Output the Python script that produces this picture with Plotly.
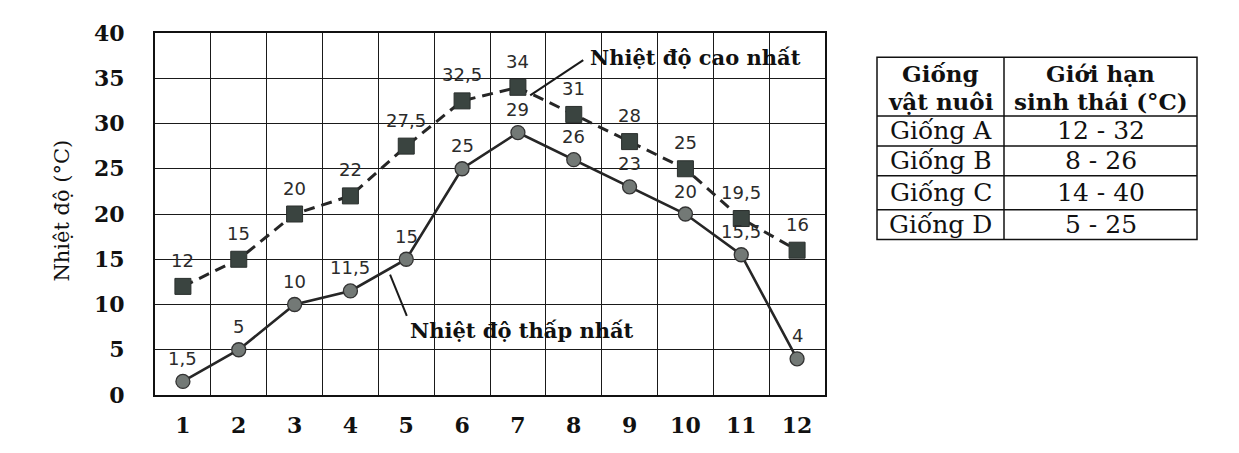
import plotly.graph_objects as go

# ---------------- data ----------------
months = [1, 2, 3, 4, 5, 6, 7, 8, 9, 10, 11, 12]
high_temp = [12, 15, 20, 22, 27.5, 32.5, 34, 31, 28, 25, 19.5, 16]
low_temp = [1.5, 5, 10, 11.5, 15, 25, 29, 26, 23, 20, 15.5, 4]
y_ticks = [0, 5, 10, 15, 20, 25, 30, 35, 40]

breeds = ["Giống A", "Giống B", "Giống C", "Giống D"]
limits = ["12 - 32", "8 - 26", "14 - 40", "5 - 25"]
table_header = [["Giống", "vật nuôi"], ["Giới hạn", "sinh thái (°C)"]]

label_high = "Nhiệt độ cao nhất"
label_low = "Nhiệt độ thấp nhất"
y_title = "Nhiệt độ (°C)"

# ---------------- geometry (page offset of 8px body margin) ----------------
OFF = 8
W, H = 1231, 445
ML, MT = 155 - OFF, 20 - OFF
MR = W - (825 - OFF)
MB = H - (395 - OFF)
PW, PH = W - ML - MR, H - MT - MB


def px_x(px):
    return (px - OFF - ML) / PW


def px_y(py):
    return (H - MB - (py - OFF)) / PH


def fmt(v):
    return f"{v:g}".replace(".", ",")


fig = go.Figure()

fig.add_trace(go.Scatter(
    x=months, y=high_temp, mode="lines+markers",
    line=dict(color="#262626", width=3, dash="11px,7px"),
    marker=dict(symbol="square", size=16, color="#3a4440",
                line=dict(color="#2a2f2d", width=1)),
    showlegend=False, cliponaxis=False,
))
fig.add_trace(go.Scatter(
    x=months, y=low_temp, mode="lines+markers",
    line=dict(color="#262626", width=2.6),
    marker=dict(symbol="circle", size=14, color="#737976",
                line=dict(color="#333333", width=1.3)),
    showlegend=False, cliponaxis=False,
))

lab_font = dict(family="DejaVu Sans", size=18, color="#2b2b2b")
annotations = []
for m, v in zip(months, high_temp):
    annotations.append(dict(x=m, y=v, xref="x", yref="y", text=fmt(v),
                            showarrow=False, yshift=26, xanchor="center", yanchor="middle",
                            font=lab_font))
for m, v in zip(months, low_temp):
    annotations.append(dict(x=m, y=v, xref="x", yref="y", text=fmt(v),
                            showarrow=False, yshift=23, xanchor="center", yanchor="middle",
                            font=lab_font))

# series labels with leader lines
ser_font = dict(family="DejaVu Serif", size=21, color="#111111")
annotations.append(dict(x=8.26, y=37.3, xref="x", yref="y", text=f"<b>{label_high}</b>",
                        showarrow=False, xanchor="left", yanchor="middle", font=ser_font))
annotations.append(dict(x=5.03, y=7.1, xref="x", yref="y", text=f"<b>{label_low}</b>",
                        showarrow=False, xanchor="left", yanchor="middle", font=ser_font))

# y axis title
annotations.append(dict(x=px_x(62), y=px_y(204), xref="paper", yref="paper",
                        text=y_title, textangle=-90, showarrow=False,
                        xanchor="center", yanchor="middle",
                        font=dict(family="DejaVu Serif", size=21, color="#111111")))

shapes = [
    dict(type="line", xref="x", yref="y", x0=8.17, y0=37.0, x1=7.22, y1=33.1,
         line=dict(color="#1a1a1a", width=2)),
    dict(type="line", xref="x", yref="y", x0=4.71, y0=13.3, x1=5.01, y1=8.75,
         line=dict(color="#1a1a1a", width=2)),
]

# ---------------- table ----------------
tx0, txm, tx1 = 877, 1004, 1197
row_edges = [45, 106, 137, 168, 203, 234]
bw = 1.5
tcol = "#111111"
shapes.append(dict(type="rect", xref="paper", yref="paper",
                   x0=px_x(tx0), x1=px_x(tx1), y0=px_y(row_edges[-1]), y1=px_y(row_edges[0]),
                   line=dict(color=tcol, width=bw)))
shapes.append(dict(type="line", xref="paper", yref="paper",
                   x0=px_x(txm), x1=px_x(txm), y0=px_y(row_edges[-1]), y1=px_y(row_edges[0]),
                   line=dict(color=tcol, width=bw)))
for e in row_edges[1:-1]:
    shapes.append(dict(type="line", xref="paper", yref="paper",
                       x0=px_x(tx0), x1=px_x(tx1), y0=px_y(e), y1=px_y(e),
                       line=dict(color=tcol, width=bw)))

col_centers = [(tx0 + txm) / 2, (txm + tx1) / 2]
hdr_mid = (row_edges[0] + row_edges[1]) / 2
for c, lines in zip(col_centers, table_header):
    for ln, dy in zip(lines, [-14, 15]):
        annotations.append(dict(x=px_x(c), y=px_y(hdr_mid + dy), xref="paper", yref="paper",
                                text=f"<b>{ln}</b>", showarrow=False,
                                xanchor="center", yanchor="middle",
                                font=dict(family="DejaVu Serif", size=23, color=tcol)))
for i, (b, l) in enumerate(zip(breeds, limits)):
    yc = px_y((row_edges[i + 1] + row_edges[i + 2]) / 2)
    for c, t in zip(col_centers, [b, l]):
        annotations.append(dict(x=px_x(c), y=yc, xref="paper", yref="paper",
                                text=t, showarrow=False, xanchor="center", yanchor="middle",
                                font=dict(family="DejaVu Serif", size=25, color=tcol)))

tick_font = dict(family="DejaVu Serif", size=22, color="#111111")

fig.update_layout(
    width=W, height=H,
    margin=dict(l=ML, r=MR, t=MT, b=MB),
    paper_bgcolor="white", plot_bgcolor="white",
    annotations=annotations, shapes=shapes,
    xaxis=dict(
        range=[0.5, 12.5], tickvals=months, ticktext=[f"<b>{m}</b>" for m in months],
        showgrid=False, zeroline=False,
        showline=True, linecolor="#111111", linewidth=2, mirror=True,
        ticks="outside", ticklen=10, tickcolor="rgba(0,0,0,0)",
        tickfont=tick_font,
        minor=dict(tickvals=[m + 0.5 for m in months[:-1]], showgrid=True,
                   gridcolor="#1a1a1a", gridwidth=1.3),
    ),
    yaxis=dict(
        range=[0, 40], tickvals=y_ticks, ticktext=[f"<b>{t}</b>" for t in y_ticks],
        showgrid=True, gridcolor="#1a1a1a", gridwidth=1.3, zeroline=False,
        showline=True, linecolor="#111111", linewidth=2, mirror=True,
        ticks="outside", ticklen=24, tickcolor="rgba(0,0,0,0)",
        tickfont=tick_font,
    ),
)

fig.write_html("out.html")
